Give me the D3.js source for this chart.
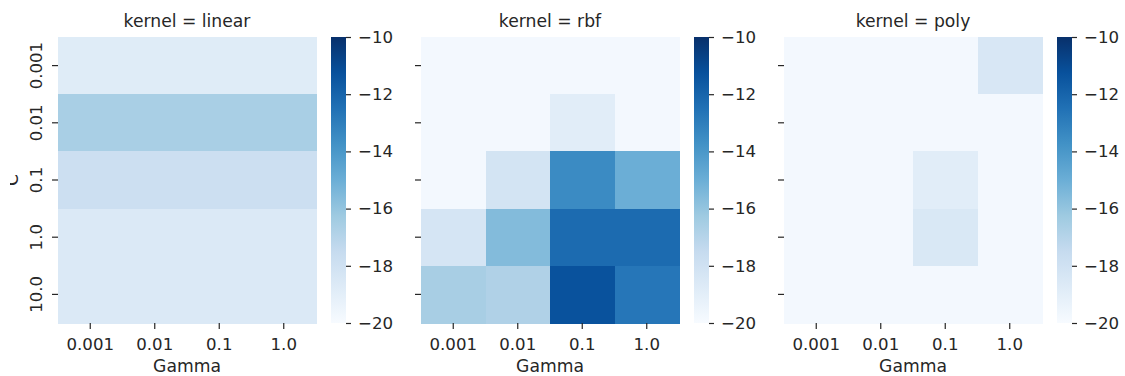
<!DOCTYPE html>
<html>
<head>
<meta charset="utf-8">
<script src="https://cdn.jsdelivr.net/npm/d3@7"></script>
<style>
  body { margin: 0; background: #fff; }
  text { font-family: "DejaVu Sans", sans-serif; fill: #262626; }
</style>
</head>
<body>
<svg id="chart" width="1125" height="376"></svg>
<script>
const gammas = ["0.001", "0.01", "0.1", "1.0"];
const Cs = ["0.001", "0.01", "0.1", "1.0", "10.0"];
const kernels = ["linear", "rbf", "poly"];

// rows = C, columns = gamma
const linearScores = [
  [-18.8, -18.8, -18.8, -18.8],
  [-16.6, -16.6, -16.6, -16.6],
  [-17.8, -17.8, -17.8, -17.8],
  [-18.6, -18.6, -18.6, -18.6],
  [-18.6, -18.6, -18.6, -18.6]
];
const rbfScores = [
  [-19.8, -19.8, -19.8, -19.8],
  [-19.8, -19.8, -18.9, -19.8],
  [-19.8, -18.2, -13.5, -15.0],
  [-18.3, -15.6, -12.25, -12.25],
  [-16.55, -16.8, -11.3, -12.7]
];
const polyScores = [
  [-19.8, -19.8, -19.8, -18.45],
  [-19.8, -19.8, -19.8, -19.8],
  [-19.8, -19.8, -18.9, -19.8],
  [-19.8, -19.8, -18.5, -19.8],
  [-19.8, -19.8, -19.8, -19.8]
];
const scoreSets = [linearScores, rbfScores, polyScores];

const cbTicks = [-20, -18, -16, -14, -12, -10];
const vmin = -20, vmax = -10;

// matplotlib "Blues"
const bluesColors = ["#f7fbff", "#deebf7", "#c6dbef", "#9ecae1", "#6baed6",
                     "#4292c6", "#2171b5", "#08519c", "#08306b"];
const color = d3.scaleLinear()
  .domain(d3.range(9).map(i => vmin + (vmax - vmin) * i / 8))
  .range(bluesColors)
  .interpolate(d3.interpolateRgb)
  .clamp(true);

const svg = d3.select("#chart");
const fs = 16.6;     // tick labels
const fsLab = 17.2;  // titles and axis labels
const mapTop = 37, mapBottom = 323;
const mapW = 258;
const panelX = [58, 421, 784];

const defs = svg.append("defs");
const grad = defs.append("linearGradient")
  .attr("id", "cbgrad")
  .attr("x1", 0).attr("y1", 1).attr("x2", 0).attr("y2", 0);
grad.selectAll("stop")
  .data(bluesColors)
  .join("stop")
  .attr("offset", (d, i) => i / 8)
  .attr("stop-color", d => d);

// the "C" label is partly cut off at the left in the original figure
defs.append("clipPath").attr("id", "ylabclip")
  .append("rect").attr("x", 10).attr("y", 0).attr("width", 20).attr("height", 376);

kernels.forEach((k, ki) => {
  const x0 = panelX[ki];
  const g = svg.append("g");
  const x = d3.scaleBand().domain(gammas).range([x0, x0 + mapW]);
  const y = d3.scaleBand().domain(Cs).range([mapTop, mapBottom]);

  const cells = [];
  scoreSets[ki].forEach((row, ri) => row.forEach((v, gi) => cells.push({ c: Cs[ri], g: gammas[gi], v })));

  g.selectAll("rect.cell")
    .data(cells)
    .join("rect")
    .attr("class", "cell")
    .attr("x", d => x(d.g))
    .attr("y", d => y(d.c))
    .attr("width", x.bandwidth() + 0.5)
    .attr("height", y.bandwidth() + 0.5)
    .attr("fill", d => color(d.v))
    .attr("shape-rendering", "crispEdges");

  // x axis
  const xAxis = g.append("g")
    .attr("transform", `translate(0,${mapBottom})`)
    .call(d3.axisBottom(x).tickSize(6).tickPadding(9));
  xAxis.select(".domain").remove();
  xAxis.selectAll("line").attr("stroke", "#262626").attr("stroke-width", 1.2);
  xAxis.selectAll("text").style("font-size", fs + "px").attr("fill", "#262626");

  g.append("text")
    .attr("x", x0 + mapW / 2)
    .attr("y", 372)
    .attr("text-anchor", "middle")
    .style("font-size", fsLab + "px")
    .text("Gamma");

  // y ticks
  g.selectAll("line.yt")
    .data(Cs)
    .join("line")
    .attr("class", "yt")
    .attr("x1", x0 - 6).attr("x2", x0)
    .attr("y1", d => y(d) + y.bandwidth() / 2)
    .attr("y2", d => y(d) + y.bandwidth() / 2)
    .attr("stroke", "#262626").attr("stroke-width", 1.2);

  if (ki === 0) {
    g.selectAll("text.yl")
      .data(Cs)
      .join("text")
      .attr("class", "yl")
      .attr("transform", d => `translate(${x0 - 16.5},${y(d) + y.bandwidth() / 2}) rotate(-90)`)
      .attr("text-anchor", "middle")
      .style("font-size", fs + "px")
      .text(d => d);
    g.append("g").attr("clip-path", "url(#ylabclip)")
      .append("text")
      .attr("transform", `translate(17.5,${(mapTop + mapBottom) / 2}) rotate(-90)`)
      .attr("text-anchor", "middle")
      .style("font-size", fsLab + "px")
      .text("C");
  }

  g.append("text")
    .attr("x", x0 + mapW / 2)
    .attr("y", 27)
    .attr("text-anchor", "middle")
    .style("font-size", fsLab + "px")
    .text(`kernel = ${k}`);

  // colorbar
  const cbX = x0 + mapW + 15;
  const cbW = 15;
  g.append("rect")
    .attr("x", cbX).attr("y", mapTop)
    .attr("width", cbW).attr("height", mapBottom - mapTop)
    .attr("fill", "url(#cbgrad)");
  const cbScale = d3.scaleLinear().domain([vmin, vmax]).range([mapBottom, mapTop]);
  const cbAxis = g.append("g")
    .attr("transform", `translate(${cbX + cbW},0)`)
    .call(d3.axisRight(cbScale).tickValues(cbTicks).tickFormat(d3.format("d")).tickSize(5).tickPadding(7));
  cbAxis.select(".domain").remove();
  cbAxis.selectAll("line").attr("stroke", "#262626").attr("stroke-width", 1.2);
  cbAxis.selectAll("text").style("font-size", fs + "px").attr("fill", "#262626");
});
</script>
</body>
</html>
